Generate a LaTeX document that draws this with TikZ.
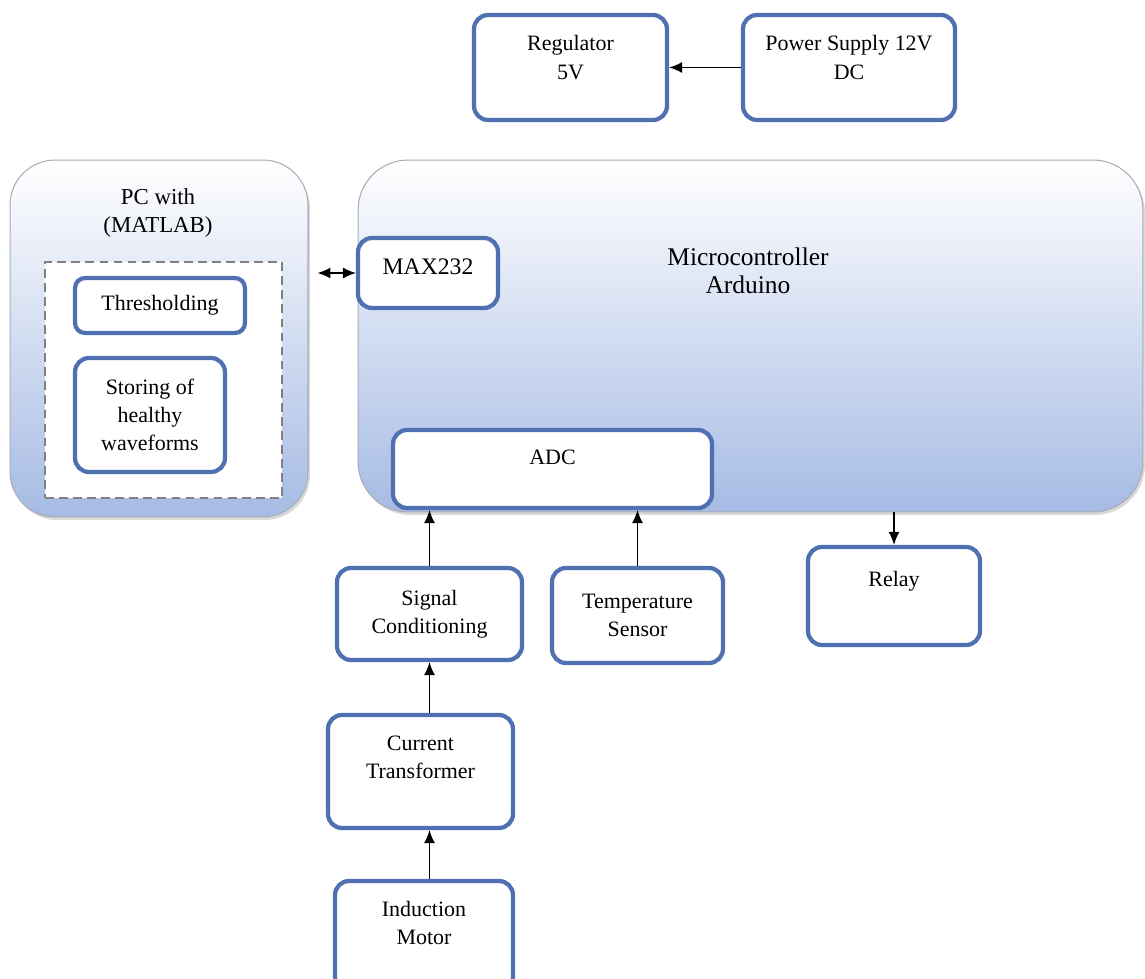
\documentclass[tikz,border=0pt]{standalone}
\usepackage{fontspec}
\setmainfont{Liberation Serif}
\usetikzlibrary{arrows.meta,shadows}
\definecolor{boxblue}{RGB}{79,113,178}
\definecolor{padblue}{RGB}{166,187,228}
\definecolor{padline}{RGB}{168,172,182}
\begin{document}
\begin{tikzpicture}[x=0.02cm, y=-0.02cm, >={Latex[length=2.6mm,width=2.2mm]},
    font=\fontsize{12.5}{16}\selectfont,
    blk/.style={draw=boxblue, line width=2.4pt, rounded corners=0.28cm, fill=white, align=center},
    pad/.style={draw=padline, line width=0.6pt, rounded corners=0.9cm, top color=white, bottom color=padblue,
        drop shadow={shadow xshift=0.04cm, shadow yshift=-0.06cm, opacity=0.3}},
    link/.style={line width=0.8pt}]
\useasboundingbox (0,0) rectangle (1145,979);
\node[blk, minimum width=3.86cm, minimum height=2.1cm](reg) at (570.5,67.5) {Regulator\\5V\\[-4.5pt]\mbox{}};
\node[blk, minimum width=4.24cm, minimum height=2.1cm](psu) at (849,67.5) {Power Supply 12V\\DC\\[-4.5pt]\mbox{}};
\node[pad, minimum width=5.96cm, minimum height=7.14cm](pc) at (159,338.5) {};
\node[align=center, font=\fontsize{13}{16}\selectfont](pctxt) at (158,213) {PC with\\(MATLAB)};
\node[draw=gray, line width=0.8pt, dash pattern=on 5pt off 3pt, fill=white, minimum width=4.74cm, minimum height=4.72cm](sw) at (163.5,380) {};
\node[blk, rounded corners=0.2cm, minimum width=3.4cm, minimum height=1.1cm](thr) at (160,305.5) {Thresholding};
\node[blk, minimum width=3cm, minimum height=2.28cm](sto) at (150,415) {Storing of\\healthy\\waveforms};
\node[pad, rounded corners=1cm, minimum width=15.7cm, minimum height=7.04cm](mcu) at (750.5,336) {};
\node[align=center, font=\fontsize{14.5}{16}\selectfont](mcutxt) at (748,271) {Microcontroller\\Arduino};
\node[blk, font=\fontsize{13.5}{16}\selectfont, text depth=0.24cm, minimum width=2.8cm, minimum height=1.4cm](max) at (428,273) {MAX232};
\node[blk, text depth=0.48cm, minimum width=6.38cm, minimum height=1.56cm](adc) at (552.5,469) {ADC};
\node[blk, minimum width=3.7cm, minimum height=1.84cm](sig) at (429.5,614) {Signal\\Conditioning};
\node[blk, minimum width=3.42cm, minimum height=1.9cm](tmp) at (637.5,615.5) {Temperature\\Sensor};
\node[blk, text depth=0.7cm, minimum width=3.44cm, minimum height=1.96cm](rly) at (894,596) {Relay};
\node[blk, minimum width=3.7cm, minimum height=2.26cm](ct) at (420.5,771.5) {Current\\Transformer\\\mbox{}};
\node[blk, minimum width=3.56cm, minimum height=2.2cm](im) at (424,936) {Induction\\Motor\\[-1pt]\mbox{}};
\draw[->, link](psu) -- (reg);
\draw[<->, link, shorten <=0.18cm](max.west -| pc.east) -- (max.west);
\draw[->, link](sig.north) -- (sig.north |- adc.south);
\draw[->, link](tmp.north) -- (tmp.north |- adc.south);
\draw[->, link](rly.north |- mcu.south) -- (rly.north);
\draw[->, link](ct.north -| sig.south) -- (sig.south);
\draw[->, link](im.north -| sig.south) -- (ct.south -| sig.south);
\end{tikzpicture}
\end{document}
